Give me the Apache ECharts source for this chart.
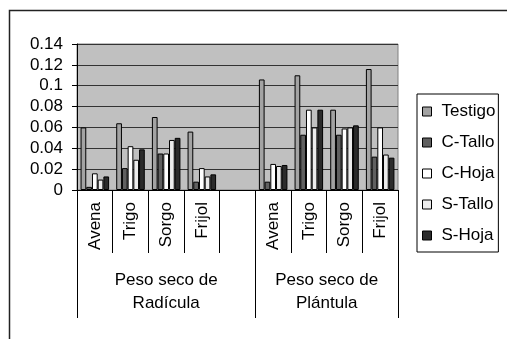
<!DOCTYPE html>
<html>
<head>
<meta charset="utf-8">
<script src="https://cdn.jsdelivr.net/npm/echarts@6/dist/echarts.min.js"></script>
<style>
  html, body { margin: 0; padding: 0; background: #fff; }
  #chart { width: 507px; height: 339px; }
</style>
</head>
<body>
<div id="chart"></div>
<script>
const categories = ['Avena', 'Trigo', 'Sorgo', 'Frijol', '', 'Avena', 'Trigo', 'Sorgo', 'Frijol']
const groups = ['Peso seco de\nRadícula', 'Peso seco de\nPlántula']
const groupEdges = [0, 5, 9]
const groupMids = [2.5, 7]

const testigo = [0.060, 0.064, 0.070, 0.056, null, 0.106, 0.110, 0.077, 0.116]
const cTallo = [0.003, 0.021, 0.035, 0.008, null, 0.008, 0.053, 0.053, 0.032]
const cHoja = [0.016, 0.042, 0.035, 0.021, null, 0.025, 0.077, 0.059, 0.060]
const sTallo = [0.010, 0.029, 0.048, 0.013, null, 0.023, 0.060, 0.060, 0.034]
const sHoja = [0.013, 0.039, 0.050, 0.015, null, 0.024, 0.077, 0.062, 0.031]

const FONT = "'Liberation Sans', Arial, sans-serif"
const BLACK = '#000'

const chart = echarts.init(document.getElementById('chart'), null, { renderer: 'canvas' })

const bar = (name, data, color) => ({
  name,
  type: 'bar',
  xAxisIndex: 0,
  data,
  barGap: 0,
  barCategoryGap: '20%',
  itemStyle: { color, borderColor: BLACK, borderWidth: 1 },
  emphasis: { disabled: true }
})

chart.setOption({
  animation: false,
  backgroundColor: '#fff',
  textStyle: { fontFamily: FONT },
  graphic: [{
    type: 'rect',
    shape: { x: 9.5, y: 10.5, width: 600, height: 400 },
    style: { fill: 'none', stroke: '#222', lineWidth: 1.5 },
    silent: true
  }],
  grid: {
    left: 77, right: 109, top: 44, bottom: 149,
    show: true, backgroundColor: '#c0c0c0', borderColor: '#808080', borderWidth: 1
  },
  legend: {
    orient: 'vertical',
    left: 417,
    top: 94,
    padding: [9, 3, 8, 5],
    itemGap: 14,
    itemWidth: 9,
    itemHeight: 9,
    icon: 'rect',
    borderColor: BLACK,
    borderWidth: 1,
    itemStyle: { borderColor: BLACK, borderWidth: 1 },
    textStyle: { fontFamily: FONT, fontSize: 17, color: BLACK, lineHeight: 17, padding: [0, 0, 0, 5] },
    data: ['Testigo', 'C-Tallo', 'C-Hoja', 'S-Tallo', 'S-Hoja']
  },
  xAxis: [
    {
      type: 'category',
      data: categories,
      axisLine: { lineStyle: { color: BLACK, width: 1 } },
      axisTick: { show: true, interval: 0, length: 63, lineStyle: { color: BLACK } },
      axisLabel: { interval: 0, rotate: 90, margin: 12, fontSize: 17, color: BLACK, fontFamily: FONT }
    },
    {
      type: 'value',
      min: 0,
      max: 9,
      position: 'bottom',
      axisLine: { show: false },
      splitLine: { show: false },
      axisTick: { show: true, customValues: groupEdges, length: 128, lineStyle: { color: BLACK } },
      axisLabel: {
        customValues: groupMids,
        margin: 79,
        fontSize: 17,
        lineHeight: 23,
        color: BLACK,
        fontFamily: FONT,
        formatter: (v) => groups[groupMids.indexOf(v)] || ''
      }
    }
  ],
  yAxis: {
    type: 'value',
    min: 0,
    max: 0.14,
    interval: 0.02,
    axisLine: { show: true, lineStyle: { color: BLACK } },
    axisTick: { show: true, length: 5, lineStyle: { color: BLACK } },
    axisLabel: { fontSize: 17, color: BLACK, margin: 14, fontFamily: FONT },
    splitLine: { lineStyle: { color: '#333', width: 1 } }
  },
  series: [
    bar('Testigo', testigo, '#a3a3a3'),
    bar('C-Tallo', cTallo, '#606060'),
    bar('C-Hoja', cHoja, '#ffffff'),
    bar('S-Tallo', sTallo, '#ececec'),
    bar('S-Hoja', sHoja, '#2b2b2b')
  ]
})
</script>
</body>
</html>
